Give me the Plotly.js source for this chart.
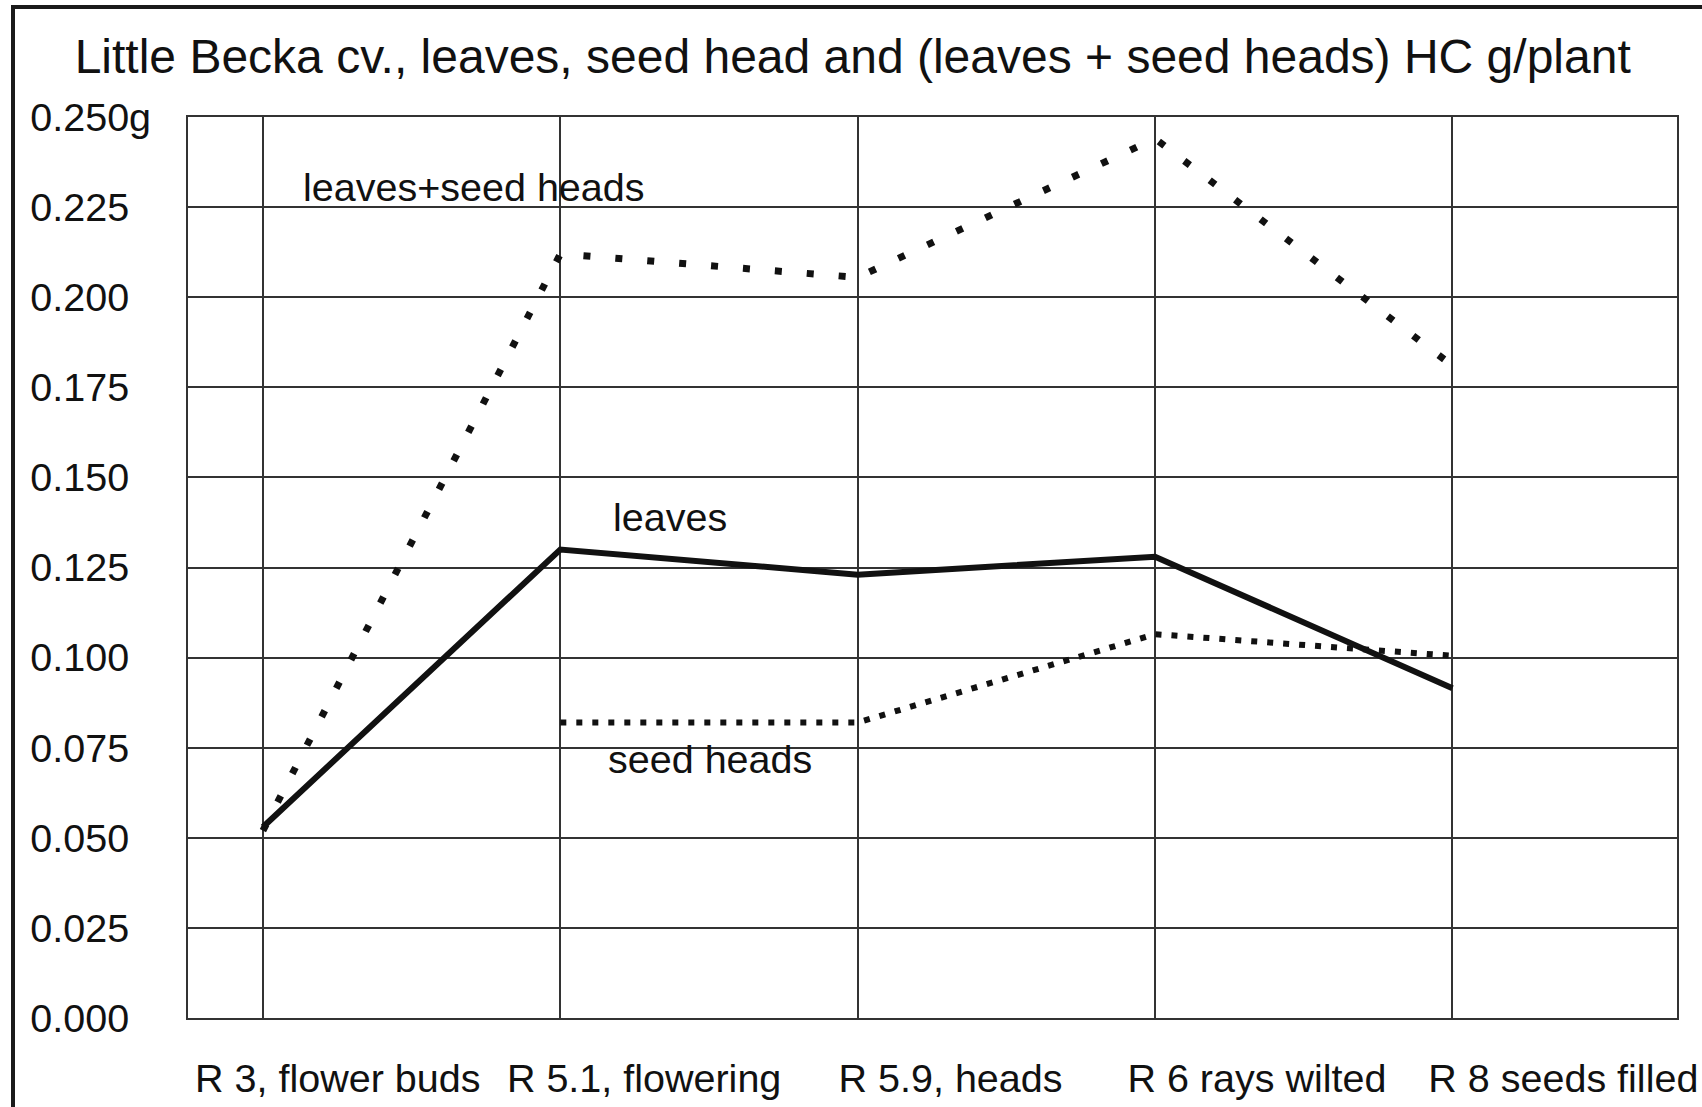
<!DOCTYPE html>
<html>
<head>
<meta charset="utf-8">
<script src="https://cdn.plot.ly/plotly-3.0.1.min.js"></script>
<style>
  html, body { margin: 0; padding: 0; background: #fff; }
  #wrap { position: relative; width: 1702px; height: 1107px; overflow: hidden; }
  #chart { position: absolute; left: 0; top: 0; width: 1702px; height: 1107px; }
  #frame { position: absolute; left: 11px; top: 5px; width: 1700px; height: 1110px;
           border-left: 4px solid #1a1a1a; border-top: 4px solid #1a1a1a; pointer-events: none; }
</style>
</head>
<body>
<div id="wrap">
  <div id="chart"></div>
  <div id="frame"></div>
</div>
<script>
// ---- data ----
const categories = ["R 3, flower buds", "R 5.1, flowering", "R 5.9, heads", "R 6 rays wilted", "R 8 seeds filled"];
const leaves = [0.053, 0.130, 0.123, 0.128, 0.0915];
const seedHeads = [null, 0.082, 0.082, 0.1065, 0.1005];
const leavesPlusSeedHeads = [0.052, 0.212, 0.2055, 0.244, 0.181];
const yTickVals = [0, 0.025, 0.05, 0.075, 0.1, 0.125, 0.15, 0.175, 0.2, 0.225, 0.25];
const yTickLabels = ["0.000", "0.025", "0.050", "0.075", "0.100", "0.125", "0.150", "0.175", "0.200", "0.225", "0.250g"];
const titleText = "Little Becka cv., leaves, seed head and (leaves + seed heads) HC g/plant";
const seriesLabels = ["leaves+seed heads", "leaves", "seed heads"];

// ---- drawing ----
const FONT = "Liberation Sans, Arial, Helvetica, sans-serif";
const ink = "#111";
const grid = "#333";

// pad shorter labels so all labels share a left edge (like the original)
const paddedY = yTickLabels.map(t => t.endsWith("g") ? t : t + "\u00a0\u00a0");

const traces = [
  { x: categories, y: leavesPlusSeedHeads, mode: "lines", name: seriesLabels[0],
    line: { color: ink, width: 7, dash: "7px,25px" }, hoverinfo: "skip" },
  { x: categories, y: leaves, mode: "lines", name: seriesLabels[1],
    line: { color: ink, width: 6 }, hoverinfo: "skip" },
  { x: categories, y: seedHeads, mode: "lines", name: seriesLabels[2],
    line: { color: ink, width: 6, dash: "6px,10px" }, connectgaps: false, hoverinfo: "skip" },
  // carrier for the category labels axis
  { x: categories, y: categories.map(() => null), xaxis: "x2", yaxis: "y", mode: "lines",
    showlegend: false, hoverinfo: "skip" }
];

const layout = {
  width: 1702, height: 1107,
  margin: { l: 188, r: 25, t: 117, b: 89 },
  paper_bgcolor: "#fff", plot_bgcolor: "#fff",
  showlegend: false,
  font: { family: FONT, color: ink, size: 39.5 },
  title: { text: titleText, font: { family: FONT, size: 48, color: ink },
           x: 0.501, xanchor: "center", y: 0.9495, yanchor: "middle", xref: "container", yref: "container" },
  xaxis: {
    type: "category", categoryarray: categories, categoryorder: "array",
    range: [-0.252, 4.755],
    showgrid: true, gridcolor: grid, gridwidth: 2,
    showline: true, linecolor: grid, linewidth: 2, mirror: true,
    zeroline: false, ticks: "", showticklabels: false, fixedrange: true
  },
  xaxis2: {
    type: "category", categoryarray: categories, categoryorder: "array",
    overlaying: "x", anchor: "y", side: "bottom",
    range: [-0.4886, 4.371],
    showgrid: false, showline: false, zeroline: false, ticks: "",
    tickfont: { family: FONT, size: 39.5, color: ink },
    ticklabelstandoff: 33, fixedrange: true
  },
  yaxis: {
    range: [0, 0.25],
    tickmode: "array", tickvals: yTickVals, ticktext: paddedY,
    tickfont: { family: FONT, size: 39.5, color: ink },
    showgrid: true, gridcolor: grid, gridwidth: 2,
    showline: true, linecolor: grid, linewidth: 2, mirror: true,
    zeroline: false, ticks: "", ticklabelstandoff: 27, fixedrange: true
  },
  annotations: [
    { text: seriesLabels[0], x: 0.709, y: 0.2306, xref: "x", yref: "y", showarrow: false,
      xanchor: "center", yanchor: "middle", font: { family: FONT, size: 39.5, color: ink } },
    { text: seriesLabels[1], x: 1.369, y: 0.139, xref: "x", yref: "y", showarrow: false,
      xanchor: "center", yanchor: "middle", font: { family: FONT, size: 39.5, color: ink } },
    { text: seriesLabels[2], x: 1.503, y: 0.0719, xref: "x", yref: "y", showarrow: false,
      xanchor: "center", yanchor: "middle", font: { family: FONT, size: 39.5, color: ink } }
  ]
};

Plotly.newPlot("chart", traces, layout, { displayModeBar: false, staticPlot: true });
</script>
</body>
</html>
